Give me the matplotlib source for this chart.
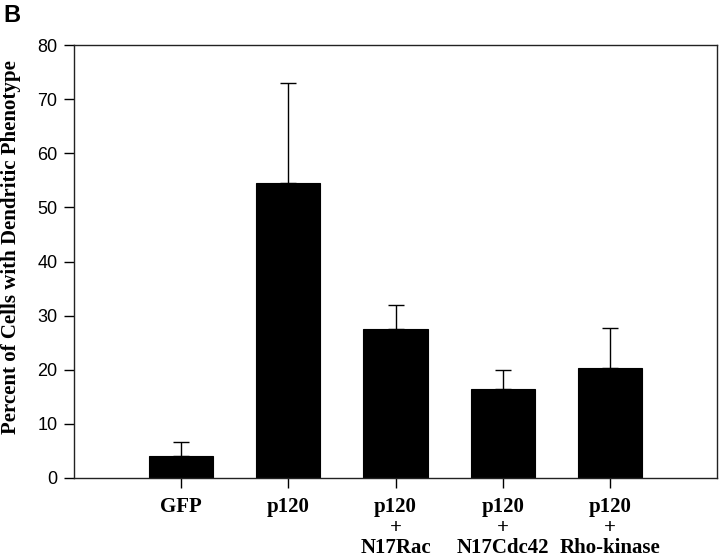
import matplotlib
matplotlib.use("Agg")
import matplotlib.pyplot as plt
import numpy as np

categories = ["GFP", "p120", "p120\n+\nN17Rac", "p120\n+\nN17Cdc42", "p120\n+\nRho-kinase"]
values = [4.0, 54.5, 27.6, 16.4, 20.4]
errors = [2.6, 18.5, 4.4, 3.6, 7.4]
yticks = [0, 10, 20, 30, 40, 50, 60, 70, 80]

fig = plt.figure(figsize=(7.2, 5.58), dpi=100)
ax = fig.add_axes([74/720, 80/558, 643/720, 433/558])

x = np.arange(1, len(categories) + 1)
ax.bar(x, values, width=0.6, color="black", edgecolor="black", linewidth=0.8, zorder=2)
ax.errorbar(x, values, yerr=[np.zeros(len(values)), errors], fmt="none",
            ecolor="black", elinewidth=1.0, capsize=6, capthick=1.0, zorder=1)

ax.set_xlim(0, len(categories) + 1)
ax.set_ylim(0, 80)
ax.set_yticks(yticks)
ax.set_yticklabels([str(t) for t in yticks], fontsize=13, family="Liberation Sans")
ax.set_xticks(x)
ax.set_xticklabels(categories, fontsize=15, family="Liberation Serif",
                   fontweight="bold", linespacing=1.03, va="top")
ax.tick_params(axis="y", direction="out", length=7, width=1, pad=5)
ax.tick_params(axis="x", direction="out", length=7, width=1, pad=7)

for s in ax.spines.values():
    s.set_linewidth(1.0)
    s.set_color("#222222")

ax.set_ylabel("Percent of Cells with Dendritic Phenotype", fontsize=15,
              family="Liberation Serif", fontweight="bold")
ax.yaxis.set_label_coords(-0.083, 0.533)

fig.text(3/720, 1 - 22/558, "B", fontsize=17, fontweight="bold",
         family="Liberation Sans", ha="left", va="baseline")

fig.savefig("out.png", dpi=100)
